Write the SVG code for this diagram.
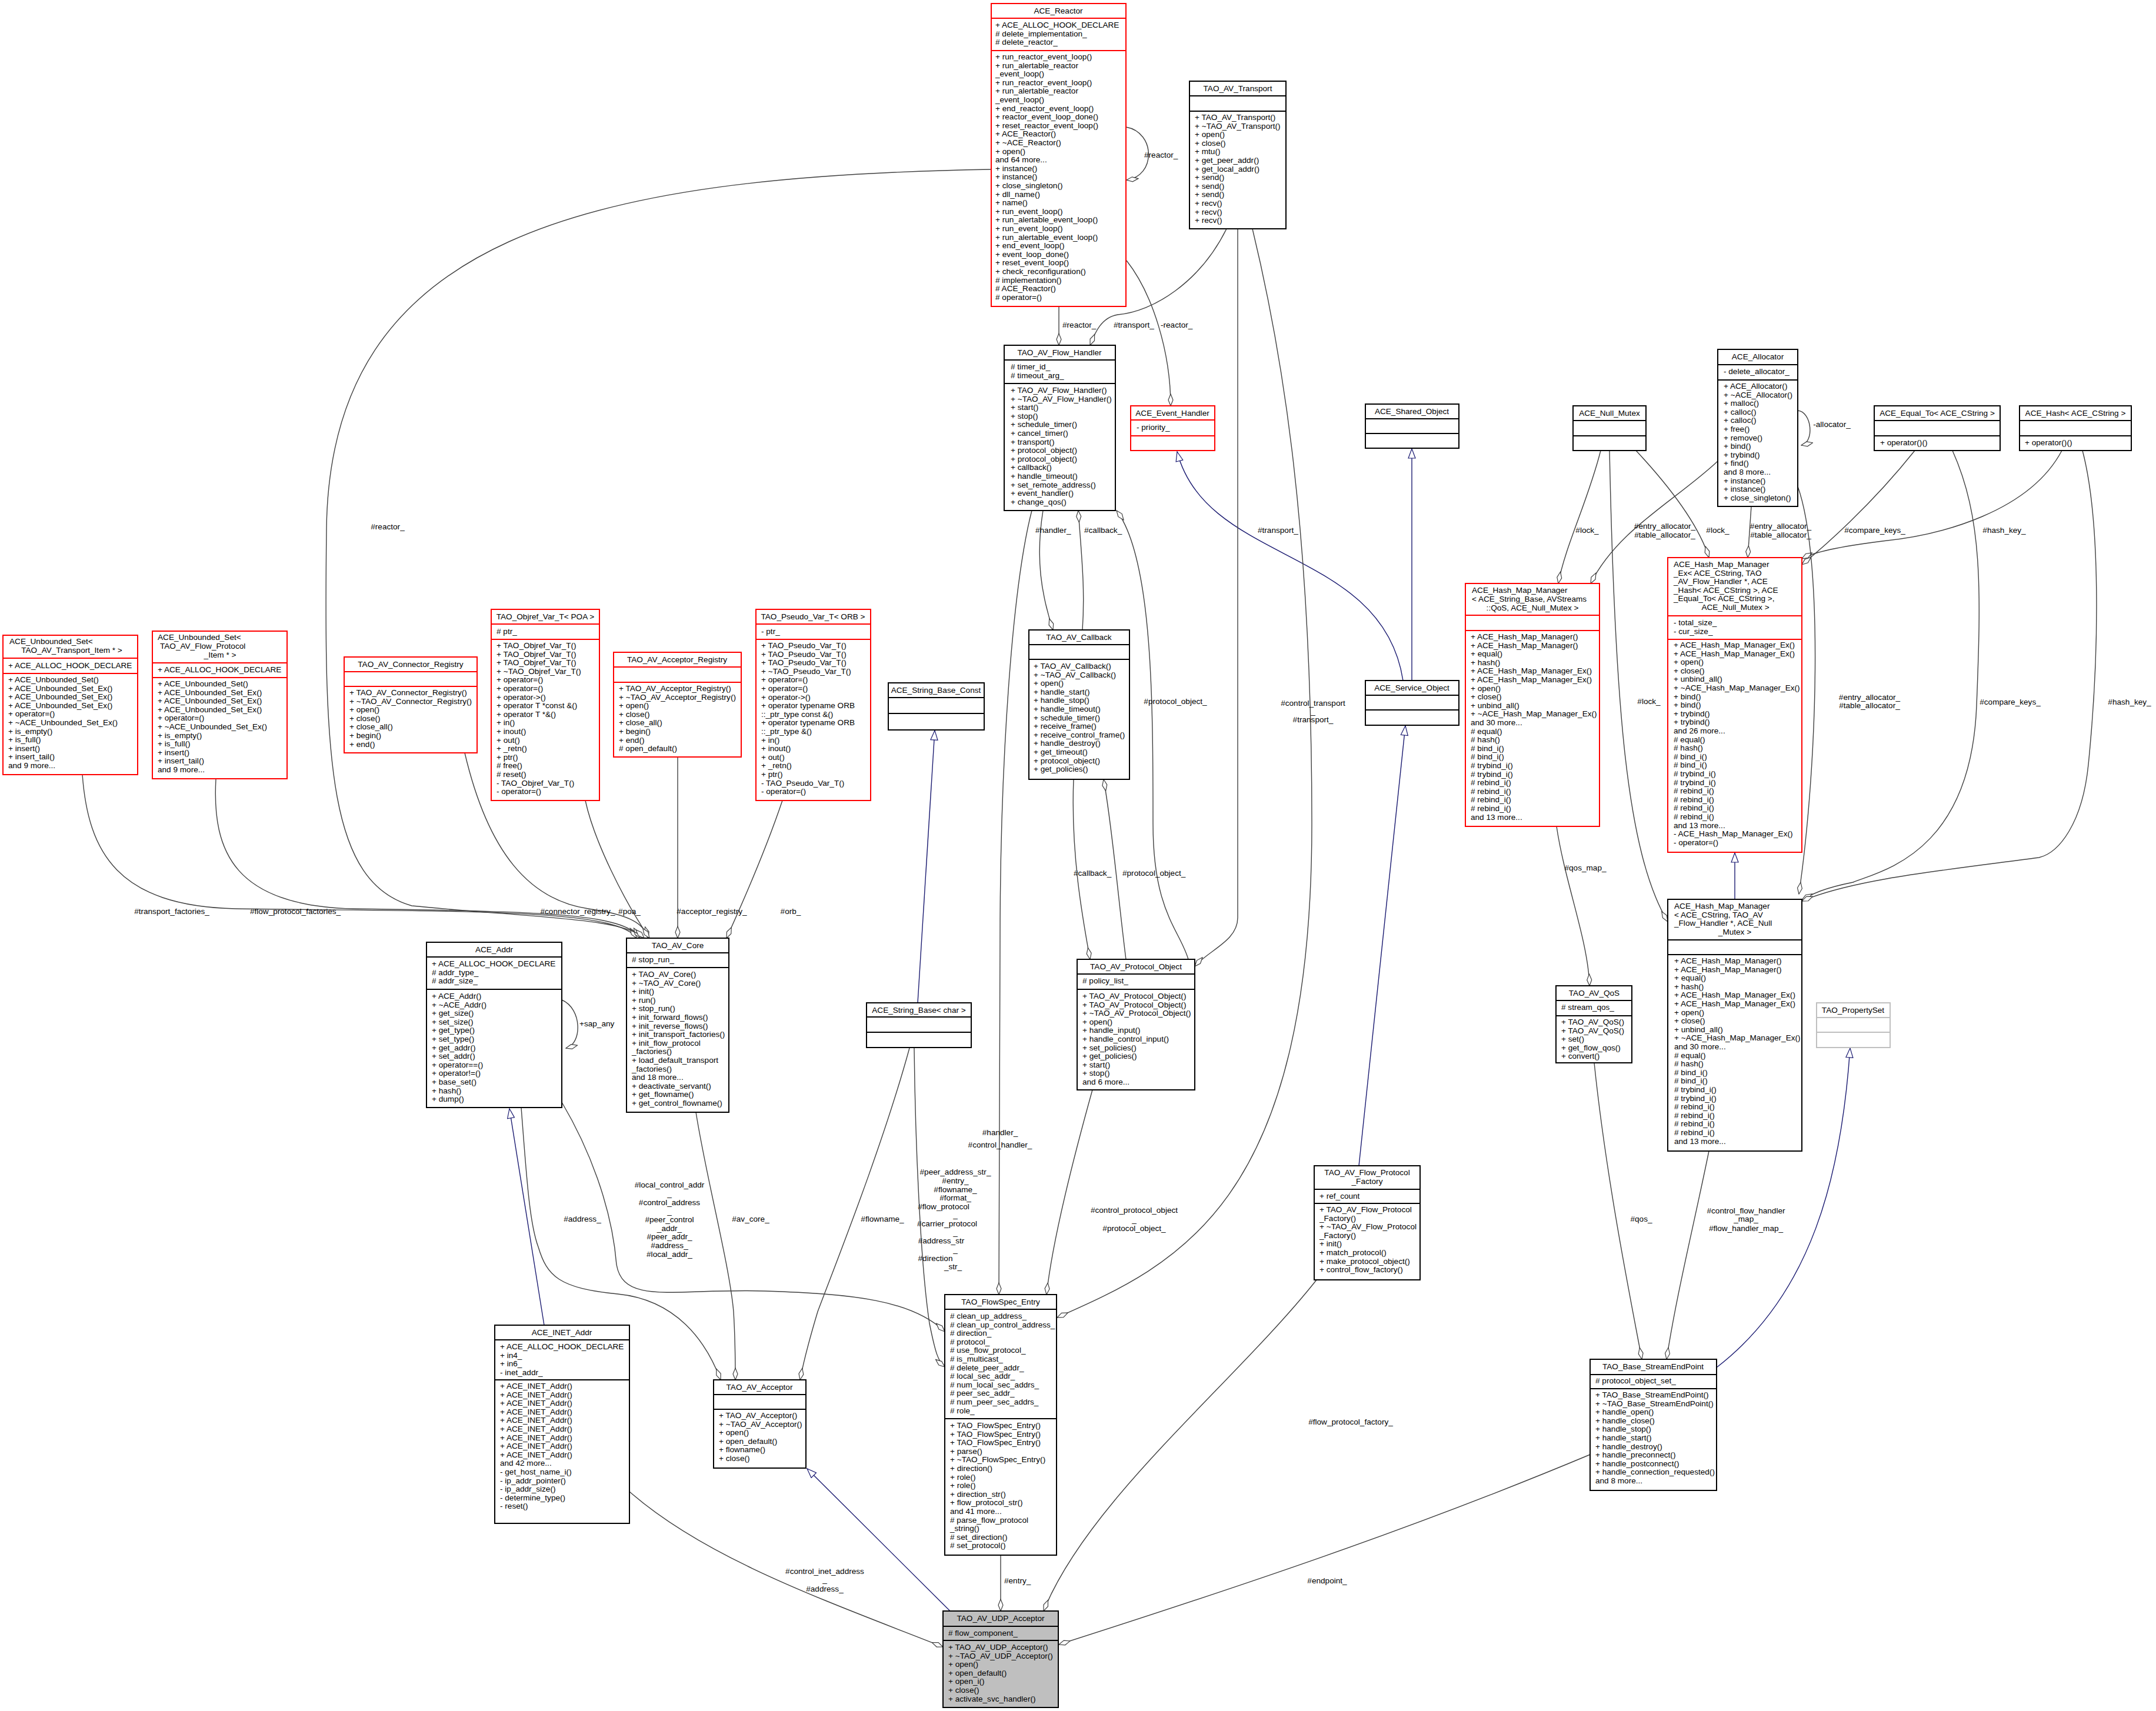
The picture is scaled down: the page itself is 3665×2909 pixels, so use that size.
<svg xmlns="http://www.w3.org/2000/svg" width="3665" height="2909" viewBox="0 0 3665 2909">
<style>
text{font-family:"Liberation Sans",Arial,sans-serif;font-size:13.6px;fill:#000}
.c{text-anchor:middle}
.b{fill:#fff;stroke:#000;stroke-width:2}
.r{fill:#fff;stroke:#ff0000;stroke-width:2}
.g{fill:#fff;stroke:#bfbfbf;stroke-width:2}
.s{stroke:#000;stroke-width:2}
.sr{stroke:#ff0000;stroke-width:2}
.sg{stroke:#bfbfbf;stroke-width:2}
.e{fill:none;stroke:#404040;stroke-width:1.4;marker-end:url(#dia)}
.i{fill:none;stroke:#191970;stroke-width:1.4;marker-end:url(#tri)}
</style>
<defs>
<marker id="dia" viewBox="0 0 22 10" refX="21" refY="5" markerWidth="22" markerHeight="10" markerUnits="userSpaceOnUse" orient="auto"><path d="M1,5 L11,1 L21,5 L11,9 Z" fill="#fff" stroke="#404040" stroke-width="1.2"/></marker>
<marker id="tri" viewBox="0 0 18 14" refX="17" refY="7" markerWidth="18" markerHeight="14" markerUnits="userSpaceOnUse" orient="auto"><path d="M1,1 L17,7 L1,13 Z" fill="#fff" stroke="#191970" stroke-width="1.2"/></marker>
</defs>
<rect width="3665" height="2909" fill="#fff"/>

<g id="connectors">
<path class="e" d="M1914,216 C1965,225 1965,300 1915,306"/>
<text x="1945" y="268">#reactor_</text>
<path class="e" d="M1800,521 L1800,587"/>
<text x="1806" y="557">#reactor_</text>
<path class="e" d="M2085,389 C2040,480 1960,530 1900,535 C1870,540 1860,570 1853,587"/>
<text x="1893" y="557">#transport_</text>
<path class="e" d="M1915,443 C1960,500 1990,600 1990,690"/>
<text x="1973" y="557">-reactor_</text>
<path class="i" d="M2385,1157 C2350,930 2050,960 2001,768"/>
<path class="i" d="M2400,1157 L2400,763"/>
<path class="i" d="M2310,1982 L2389,1234"/>
<path class="e" d="M2104,389 L2104,1560 C2104,1600 2055,1615 2031,1643"/>
<text x="2138" y="906">#transport_</text>
<path class="e" d="M2129,389 C2180,600 2230,900 2230,1400 C2230,2050 2000,2150 1797,2240"/>
<text x="2232" y="1200" class="c">#control_transport</text>
<text x="2232" y="1214" class="c">_</text>
<text x="2232" y="1228" class="c">#transport_</text>
<path class="e" d="M1773,868 C1760,950 1770,1010 1790,1071"/>
<text x="1760" y="906">#handler_</text>
<path class="e" d="M1840,1071 C1845,1000 1838,940 1833,868"/>
<text x="1843" y="906">#callback_</text>
<path class="e" d="M2020,1631 C2005,1580 1960,1550 1960,1400 C1960,1200 1960,950 1898,868"/>
<text x="1998" y="1197" class="c">#protocol_object_</text>
<path class="e" d="M1825,1325 C1820,1450 1840,1560 1853,1631"/>
<text x="1825" y="1489">#callback_</text>
<path class="e" d="M1914,1631 C1900,1520 1890,1400 1876,1325"/>
<text x="1908" y="1489">#protocol_object_</text>
<path class="e" d="M1754,868 C1720,1000 1700,1300 1700,1600 C1700,1900 1698,2100 1698,2201"/>
<text x="1700" y="1930" class="c">#handler_</text>
<text x="1700" y="1951" class="c">#control_handler_</text>
<path class="e" d="M1857,1853 C1830,1950 1790,2100 1779,2201"/>
<text x="1928" y="2062" class="c">#control_protocol_object</text>
<text x="1928" y="2078" class="c">_</text>
<text x="1928" y="2093" class="c">#protocol_object_</text>
<path class="e" d="M955,1874 C1000,1950 1040,2050 1048,2150 C1060,2220 1150,2190 1300,2195 C1450,2200 1550,2210 1606,2264"/>
<text x="1138" y="2019" class="c">#local_control_addr</text>
<text x="1138" y="2034" class="c">_</text>
<text x="1138" y="2049" class="c">#control_address</text>
<text x="1138" y="2064" class="c">_</text>
<text x="1138" y="2078" class="c">#peer_control</text>
<text x="1138" y="2093" class="c">_addr_</text>
<text x="1138" y="2107" class="c">#peer_addr_</text>
<text x="1138" y="2122" class="c">#address_</text>
<text x="1138" y="2137" class="c">#local_addr_</text>
<path class="e" d="M1554,1782 C1556,1950 1565,2150 1580,2250 C1590,2300 1595,2315 1606,2324"/>
<text x="1624" y="1997" class="c">#peer_address_str_</text>
<text x="1624" y="2012" class="c">#entry_</text>
<text x="1624" y="2027" class="c">#flowname_</text>
<text x="1624" y="2041" class="c">#format_</text>
<text x="1604" y="2056" class="c">#flow_protocol</text>
<text x="1624" y="2070" class="c">_</text>
<text x="1610" y="2085" class="c">#carrier_protocol</text>
<text x="1624" y="2100" class="c">_</text>
<text x="1600" y="2114" class="c">#address_str</text>
<text x="1624" y="2129" class="c">_</text>
<text x="1590" y="2144" class="c">#direction</text>
<text x="1620" y="2158" class="c">_str_</text>
<path class="e" d="M1546,1782 C1500,1950 1420,2150 1390,2230 C1375,2280 1365,2320 1360,2346"/>
<text x="1500" y="2077" class="c">#flowname_</text>
<path class="i" d="M1560,1705 L1589,1242"/>
<path class="e" d="M886,1883 C895,2000 900,2080 915,2120 C930,2170 950,2190 1050,2200 C1150,2210 1200,2280 1225,2346"/>
<text x="990" y="2077" class="c">#address_</text>
<path class="i" d="M925,2253 L866,1885"/>
<path class="e" d="M955,1700 C990,1715 990,1775 962,1782"/>
<text x="985" y="1745">+sap_any</text>
<path class="e" d="M1183,1891 C1200,2000 1240,2150 1247,2230 C1250,2280 1250,2320 1250,2346"/>
<text x="1276" y="2077" class="c">#av_core_</text>
<path class="i" d="M1615,2739 L1372,2497"/>
<path class="e" d="M1070,2536 C1200,2650 1400,2720 1603,2800"/>
<text x="1402" y="2676" class="c">#control_inet_address</text>
<text x="1402" y="2690" class="c">_</text>
<text x="1402" y="2706" class="c">#address_</text>
<path class="e" d="M1701,2644 L1701,2739"/>
<text x="1707" y="2692">#entry_</text>
<path class="e" d="M2238,2176 C2100,2350 1850,2550 1774,2739"/>
<text x="2296" y="2422" class="c">#flow_protocol_factory_</text>
<path class="e" d="M2703,2473 C2400,2600 2100,2700 1800,2796"/>
<text x="2256" y="2692" class="c">#endpoint_</text>
<path class="e" d="M140,1317 C150,1450 200,1540 400,1545 C800,1550 1050,1545 1082,1595"/>
<text x="292" y="1554" class="c">#transport_factories_</text>
<path class="e" d="M367,1324 C360,1450 400,1540 600,1545 C900,1550 1060,1550 1088,1595"/>
<text x="502" y="1554" class="c">#flow_protocol_factories_</text>
<path class="e" d="M1685,288 C1000,300 560,400 555,900 C550,1300 560,1500 700,1540 C900,1560 1060,1560 1095,1595"/>
<text x="659" y="900" class="c">#reactor_</text>
<path class="e" d="M790,1280 C830,1450 900,1530 1000,1545 C1070,1555 1095,1570 1102,1595"/>
<text x="982" y="1554" class="c">#connector_registry_</text>
<path class="e" d="M995,1361 C1010,1430 1060,1530 1104,1595"/>
<text x="1070" y="1554" class="c">#poa_</text>
<path class="e" d="M1152,1287 L1152,1595"/>
<text x="1210" y="1554" class="c">#acceptor_registry_</text>
<path class="e" d="M1330,1361 C1300,1450 1260,1540 1235,1595"/>
<text x="1344" y="1554" class="c">#orb_</text>
<path class="e" d="M2721,766 C2700,850 2660,930 2649,992"/>
<text x="2698" y="906" class="c">#lock_</text>
<path class="e" d="M2920,784 C2850,850 2750,900 2704,992"/>
<text x="2830" y="899" class="c">#entry_allocator_</text>
<text x="2830" y="914" class="c">#table_allocator_</text>
<path class="e" d="M2781,766 C2850,840 2890,900 2905,948"/>
<text x="2920" y="906" class="c">#lock_</text>
<path class="e" d="M2977,861 L2971,948"/>
<text x="3027" y="899" class="c">#entry_allocator_</text>
<text x="3027" y="914" class="c">#table_allocator_</text>
<path class="e" d="M3255,766 C3180,860 3100,930 3063,960"/>
<text x="3187" y="906" class="c">#compare_keys_</text>
<path class="e" d="M3505,766 C3450,870 3300,910 3200,920 C3120,930 3080,940 3063,950"/>
<text x="3407" y="906" class="c">#hash_key_</text>
<path class="e" d="M3056,698 C3080,700 3085,752 3062,757"/>
<text x="3114" y="726" class="c">-allocator_</text>
<path class="i" d="M2949,1529 L2949,1450"/>
<path class="e" d="M2736,766 C2745,1200 2765,1450 2835,1567"/>
<text x="2803" y="1197" class="c">#lock_</text>
<path class="e" d="M3056,827 C3100,950 3090,1300 3058,1520"/>
<text x="3178" y="1190" class="c">#entry_allocator_</text>
<text x="3178" y="1204" class="c">#table_allocator_</text>
<path class="e" d="M3319,766 C3370,880 3368,1000 3360,1200 C3350,1450 3200,1480 3150,1500 C3100,1510 3080,1520 3063,1530"/>
<text x="3417" y="1198" class="c">#compare_keys_</text>
<path class="e" d="M3540,766 C3570,880 3570,1100 3550,1300 C3540,1400 3500,1450 3466,1458 C3300,1480 3150,1495 3063,1532"/>
<text x="3620" y="1198" class="c">#hash_key_</text>
<path class="e" d="M2646,1405 C2660,1500 2700,1600 2702,1676"/>
<text x="2695" y="1480" class="c">#qos_map_</text>
<path class="e" d="M2710,1807 C2730,2000 2770,2200 2791,2311"/>
<text x="2790" y="2077" class="c">#qos_</text>
<path class="e" d="M2905,1957 C2880,2080 2850,2200 2833,2311"/>
<text x="2968" y="2063" class="c">#control_flow_handler</text>
<text x="2968" y="2077" class="c">_map_</text>
<text x="2968" y="2093" class="c">#flow_handler_map_</text>
<path class="i" d="M2918,2325 C3080,2200 3130,2000 3145,1782"/>
</g>

<g id="ACE_Reactor">
<rect class="r" x="1685" y="6" width="229" height="515"/>
<line class="sr" x1="1685" y1="31" x2="1914" y2="31"/><line class="sr" x1="1685" y1="86" x2="1914" y2="86"/>
<text class="c" x="1799" y="23">ACE_Reactor</text>
<text x="1692" y="47"><tspan>+ ACE_ALLOC_HOOK_DECLARE</tspan><tspan x="1692" dy="14.6"># delete_implementation_</tspan><tspan x="1692" dy="14.6"># delete_reactor_</tspan></text>
<text x="1692" y="101"><tspan>+ run_reactor_event_loop()</tspan><tspan x="1692" dy="14.6">+ run_alertable_reactor</tspan><tspan x="1692" dy="14.6">_event_loop()</tspan><tspan x="1692" dy="14.6">+ run_reactor_event_loop()</tspan><tspan x="1692" dy="14.6">+ run_alertable_reactor</tspan><tspan x="1692" dy="14.6">_event_loop()</tspan><tspan x="1692" dy="14.6">+ end_reactor_event_loop()</tspan><tspan x="1692" dy="14.6">+ reactor_event_loop_done()</tspan><tspan x="1692" dy="14.6">+ reset_reactor_event_loop()</tspan><tspan x="1692" dy="14.6">+ ACE_Reactor()</tspan><tspan x="1692" dy="14.6">+ ~ACE_Reactor()</tspan><tspan x="1692" dy="14.6">+ open()</tspan><tspan x="1692" dy="14.6">and 64 more...</tspan><tspan x="1692" dy="14.6">+ instance()</tspan><tspan x="1692" dy="14.6">+ instance()</tspan><tspan x="1692" dy="14.6">+ close_singleton()</tspan><tspan x="1692" dy="14.6">+ dll_name()</tspan><tspan x="1692" dy="14.6">+ name()</tspan><tspan x="1692" dy="14.6">+ run_event_loop()</tspan><tspan x="1692" dy="14.6">+ run_alertable_event_loop()</tspan><tspan x="1692" dy="14.6">+ run_event_loop()</tspan><tspan x="1692" dy="14.6">+ run_alertable_event_loop()</tspan><tspan x="1692" dy="14.6">+ end_event_loop()</tspan><tspan x="1692" dy="14.6">+ event_loop_done()</tspan><tspan x="1692" dy="14.6">+ reset_event_loop()</tspan><tspan x="1692" dy="14.6">+ check_reconfiguration()</tspan><tspan x="1692" dy="14.6"># implementation()</tspan><tspan x="1692" dy="14.6"># ACE_Reactor()</tspan><tspan x="1692" dy="14.6"># operator=()</tspan></text>
</g>

<g id="TAO_AV_Transport">
<rect class="b" x="2022" y="138" width="164" height="251"/>
<line class="s" x1="2022" y1="163" x2="2186" y2="163"/><line class="s" x1="2022" y1="189" x2="2186" y2="189"/>
<text class="c" x="2104" y="155">TAO_AV_Transport</text>
<text x="2031" y="204"><tspan>+ TAO_AV_Transport()</tspan><tspan x="2031" dy="14.6">+ ~TAO_AV_Transport()</tspan><tspan x="2031" dy="14.6">+ open()</tspan><tspan x="2031" dy="14.6">+ close()</tspan><tspan x="2031" dy="14.6">+ mtu()</tspan><tspan x="2031" dy="14.6">+ get_peer_addr()</tspan><tspan x="2031" dy="14.6">+ get_local_addr()</tspan><tspan x="2031" dy="14.6">+ send()</tspan><tspan x="2031" dy="14.6">+ send()</tspan><tspan x="2031" dy="14.6">+ send()</tspan><tspan x="2031" dy="14.6">+ recv()</tspan><tspan x="2031" dy="14.6">+ recv()</tspan><tspan x="2031" dy="14.6">+ recv()</tspan></text>
</g>

<g id="TAO_AV_Flow_Handler">
<rect class="b" x="1707" y="587" width="189" height="281"/>
<line class="s" x1="1707" y1="612" x2="1896" y2="612"/><line class="s" x1="1707" y1="652" x2="1896" y2="652"/>
<text class="c" x="1801" y="604">TAO_AV_Flow_Handler</text>
<text x="1718" y="628"><tspan># timer_id_</tspan><tspan x="1718" dy="14.6"># timeout_arg_</tspan></text>
<text x="1718" y="668"><tspan>+ TAO_AV_Flow_Handler()</tspan><tspan x="1718" dy="14.6">+ ~TAO_AV_Flow_Handler()</tspan><tspan x="1718" dy="14.6">+ start()</tspan><tspan x="1718" dy="14.6">+ stop()</tspan><tspan x="1718" dy="14.6">+ schedule_timer()</tspan><tspan x="1718" dy="14.6">+ cancel_timer()</tspan><tspan x="1718" dy="14.6">+ transport()</tspan><tspan x="1718" dy="14.6">+ protocol_object()</tspan><tspan x="1718" dy="14.6">+ protocol_object()</tspan><tspan x="1718" dy="14.6">+ callback()</tspan><tspan x="1718" dy="14.6">+ handle_timeout()</tspan><tspan x="1718" dy="14.6">+ set_remote_address()</tspan><tspan x="1718" dy="14.6">+ event_handler()</tspan><tspan x="1718" dy="14.6">+ change_qos()</tspan></text>
</g>

<g id="ACE_Event_Handler">
<rect class="r" x="1922" y="690" width="143" height="76"/>
<line class="sr" x1="1922" y1="714" x2="2065" y2="714"/><line class="sr" x1="1922" y1="741" x2="2065" y2="741"/>
<text class="c" x="1993" y="707">ACE_Event_Handler</text>
<text x="1932" y="731">- priority_</text>
</g>

<g id="TAO_AV_Callback">
<rect class="b" x="1749" y="1071" width="171" height="254"/>
<line class="s" x1="1749" y1="1096" x2="1920" y2="1096"/><line class="s" x1="1749" y1="1121" x2="1920" y2="1121"/>
<text class="c" x="1834" y="1088">TAO_AV_Callback</text>
<text x="1757" y="1137"><tspan>+ TAO_AV_Callback()</tspan><tspan x="1757" dy="14.6">+ ~TAO_AV_Callback()</tspan><tspan x="1757" dy="14.6">+ open()</tspan><tspan x="1757" dy="14.6">+ handle_start()</tspan><tspan x="1757" dy="14.6">+ handle_stop()</tspan><tspan x="1757" dy="14.6">+ handle_timeout()</tspan><tspan x="1757" dy="14.6">+ schedule_timer()</tspan><tspan x="1757" dy="14.6">+ receive_frame()</tspan><tspan x="1757" dy="14.6">+ receive_control_frame()</tspan><tspan x="1757" dy="14.6">+ handle_destroy()</tspan><tspan x="1757" dy="14.6">+ get_timeout()</tspan><tspan x="1757" dy="14.6">+ protocol_object()</tspan><tspan x="1757" dy="14.6">+ get_policies()</tspan></text>
</g>

<g id="ACE_Shared_Object">
<rect class="b" x="2321" y="687" width="159" height="75"/>
<line class="s" x1="2321" y1="712" x2="2480" y2="712"/><line class="s" x1="2321" y1="737" x2="2480" y2="737"/>
<text class="c" x="2400" y="704">ACE_Shared_Object</text>
</g>

<g id="ACE_Service_Object">
<rect class="b" x="2321" y="1157" width="159" height="76"/>
<line class="s" x1="2321" y1="1182" x2="2480" y2="1182"/><line class="s" x1="2321" y1="1207" x2="2480" y2="1207"/>
<text class="c" x="2400" y="1174">ACE_Service_Object</text>
</g>

<g id="ACE_String_Base_Const">
<rect class="b" x="1510" y="1161" width="163" height="80"/>
<line class="s" x1="1510" y1="1186" x2="1673" y2="1186"/><line class="s" x1="1510" y1="1213" x2="1673" y2="1213"/>
<text class="c" x="1591" y="1178">ACE_String_Base_Const</text>
</g>

<g id="ACE_Unbounded_Set_Transport">
<rect class="r" x="5" y="1080" width="229" height="237"/>
<line class="sr" x1="5" y1="1119" x2="234" y2="1119"/><line class="sr" x1="5" y1="1145" x2="234" y2="1145"/>
<text x="16" y="1095">ACE_Unbounded_Set&lt;</text>
<text class="c" x="122" y="1110">TAO_AV_Transport_Item * &gt;</text>
<text x="14" y="1136">+ ACE_ALLOC_HOOK_DECLARE</text>
<text x="14" y="1160"><tspan>+ ACE_Unbounded_Set()</tspan><tspan x="14" dy="14.6">+ ACE_Unbounded_Set_Ex()</tspan><tspan x="14" dy="14.6">+ ACE_Unbounded_Set_Ex()</tspan><tspan x="14" dy="14.6">+ ACE_Unbounded_Set_Ex()</tspan><tspan x="14" dy="14.6">+ operator=()</tspan><tspan x="14" dy="14.6">+ ~ACE_Unbounded_Set_Ex()</tspan><tspan x="14" dy="14.6">+ is_empty()</tspan><tspan x="14" dy="14.6">+ is_full()</tspan><tspan x="14" dy="14.6">+ insert()</tspan><tspan x="14" dy="14.6">+ insert_tail()</tspan><tspan x="14" dy="14.6">and 9 more...</tspan></text>
</g>

<g id="ACE_Unbounded_Set_Flow_Protocol">
<rect class="r" x="259" y="1073" width="229" height="251"/>
<line class="sr" x1="259" y1="1127" x2="488" y2="1127"/><line class="sr" x1="259" y1="1152" x2="488" y2="1152"/>
<text x="268" y="1088">ACE_Unbounded_Set&lt;</text>
<text x="272" y="1103">TAO_AV_Flow_Protocol</text>
<text class="c" x="374" y="1118">_Item * &gt;</text>
<text x="268" y="1143">+ ACE_ALLOC_HOOK_DECLARE</text>
<text x="268" y="1167"><tspan>+ ACE_Unbounded_Set()</tspan><tspan x="268" dy="14.6">+ ACE_Unbounded_Set_Ex()</tspan><tspan x="268" dy="14.6">+ ACE_Unbounded_Set_Ex()</tspan><tspan x="268" dy="14.6">+ ACE_Unbounded_Set_Ex()</tspan><tspan x="268" dy="14.6">+ operator=()</tspan><tspan x="268" dy="14.6">+ ~ACE_Unbounded_Set_Ex()</tspan><tspan x="268" dy="14.6">+ is_empty()</tspan><tspan x="268" dy="14.6">+ is_full()</tspan><tspan x="268" dy="14.6">+ insert()</tspan><tspan x="268" dy="14.6">+ insert_tail()</tspan><tspan x="268" dy="14.6">and 9 more...</tspan></text>
</g>

<g id="TAO_AV_Connector_Registry">
<rect class="r" x="585" y="1117" width="226" height="163"/>
<line class="sr" x1="585" y1="1142" x2="811" y2="1142"/><line class="sr" x1="585" y1="1167" x2="811" y2="1167"/>
<text class="c" x="698" y="1134">TAO_AV_Connector_Registry</text>
<text x="594" y="1182"><tspan>+ TAO_AV_Connector_Registry()</tspan><tspan x="594" dy="14.6">+ ~TAO_AV_Connector_Registry()</tspan><tspan x="594" dy="14.6">+ open()</tspan><tspan x="594" dy="14.6">+ close()</tspan><tspan x="594" dy="14.6">+ close_all()</tspan><tspan x="594" dy="14.6">+ begin()</tspan><tspan x="594" dy="14.6">+ end()</tspan></text>
</g>

<g id="TAO_Objref_Var_T">
<rect class="r" x="835" y="1036" width="184" height="325"/>
<line class="sr" x1="835" y1="1061" x2="1019" y2="1061"/><line class="sr" x1="835" y1="1087" x2="1019" y2="1087"/>
<text class="c" x="927" y="1053">TAO_Objref_Var_T&lt; POA &gt;</text>
<text x="844" y="1078"># ptr_</text>
<text x="844" y="1102"><tspan>+ TAO_Objref_Var_T()</tspan><tspan x="844" dy="14.6">+ TAO_Objref_Var_T()</tspan><tspan x="844" dy="14.6">+ TAO_Objref_Var_T()</tspan><tspan x="844" dy="14.6">+ ~TAO_Objref_Var_T()</tspan><tspan x="844" dy="14.6">+ operator=()</tspan><tspan x="844" dy="14.6">+ operator=()</tspan><tspan x="844" dy="14.6">+ operator-&gt;()</tspan><tspan x="844" dy="14.6">+ operator T *const &amp;()</tspan><tspan x="844" dy="14.6">+ operator T *&amp;()</tspan><tspan x="844" dy="14.6">+ in()</tspan><tspan x="844" dy="14.6">+ inout()</tspan><tspan x="844" dy="14.6">+ out()</tspan><tspan x="844" dy="14.6">+ _retn()</tspan><tspan x="844" dy="14.6">+ ptr()</tspan><tspan x="844" dy="14.6"># free()</tspan><tspan x="844" dy="14.6"># reset()</tspan><tspan x="844" dy="14.6">- TAO_Objref_Var_T()</tspan><tspan x="844" dy="14.6">- operator=()</tspan></text>
</g>

<g id="TAO_AV_Acceptor_Registry">
<rect class="r" x="1043" y="1109" width="217" height="178"/>
<line class="sr" x1="1043" y1="1134" x2="1260" y2="1134"/><line class="sr" x1="1043" y1="1160" x2="1260" y2="1160"/>
<text class="c" x="1151" y="1126">TAO_AV_Acceptor_Registry</text>
<text x="1052" y="1175"><tspan>+ TAO_AV_Acceptor_Registry()</tspan><tspan x="1052" dy="14.6">+ ~TAO_AV_Acceptor_Registry()</tspan><tspan x="1052" dy="14.6">+ open()</tspan><tspan x="1052" dy="14.6">+ close()</tspan><tspan x="1052" dy="14.6">+ close_all()</tspan><tspan x="1052" dy="14.6">+ begin()</tspan><tspan x="1052" dy="14.6">+ end()</tspan><tspan x="1052" dy="14.6"># open_default()</tspan></text>
</g>

<g id="TAO_Pseudo_Var_T">
<rect class="r" x="1285" y="1036" width="195" height="325"/>
<line class="sr" x1="1285" y1="1061" x2="1480" y2="1061"/><line class="sr" x1="1285" y1="1087" x2="1480" y2="1087"/>
<text class="c" x="1382" y="1053">TAO_Pseudo_Var_T&lt; ORB &gt;</text>
<text x="1294" y="1078">- ptr_</text>
<text x="1294" y="1102"><tspan>+ TAO_Pseudo_Var_T()</tspan><tspan x="1294" dy="14.6">+ TAO_Pseudo_Var_T()</tspan><tspan x="1294" dy="14.6">+ TAO_Pseudo_Var_T()</tspan><tspan x="1294" dy="14.6">+ ~TAO_Pseudo_Var_T()</tspan><tspan x="1294" dy="14.6">+ operator=()</tspan><tspan x="1294" dy="14.6">+ operator=()</tspan><tspan x="1294" dy="14.6">+ operator-&gt;()</tspan><tspan x="1294" dy="14.6">+ operator typename ORB</tspan><tspan x="1294" dy="14.6">::_ptr_type const &amp;()</tspan><tspan x="1294" dy="14.6">+ operator typename ORB</tspan><tspan x="1294" dy="14.6">::_ptr_type &amp;()</tspan><tspan x="1294" dy="14.6">+ in()</tspan><tspan x="1294" dy="14.6">+ inout()</tspan><tspan x="1294" dy="14.6">+ out()</tspan><tspan x="1294" dy="14.6">+ _retn()</tspan><tspan x="1294" dy="14.6">+ ptr()</tspan><tspan x="1294" dy="14.6">- TAO_Pseudo_Var_T()</tspan><tspan x="1294" dy="14.6">- operator=()</tspan></text>
</g>

<g id="ACE_Addr">
<rect class="b" x="725" y="1602" width="230" height="281"/>
<line class="s" x1="725" y1="1627" x2="955" y2="1627"/><line class="s" x1="725" y1="1682" x2="955" y2="1682"/>
<text class="c" x="840" y="1619">ACE_Addr</text>
<text x="734" y="1643"><tspan>+ ACE_ALLOC_HOOK_DECLARE</tspan><tspan x="734" dy="14.6"># addr_type_</tspan><tspan x="734" dy="14.6"># addr_size_</tspan></text>
<text x="734" y="1698"><tspan>+ ACE_Addr()</tspan><tspan x="734" dy="14.6">+ ~ACE_Addr()</tspan><tspan x="734" dy="14.6">+ get_size()</tspan><tspan x="734" dy="14.6">+ set_size()</tspan><tspan x="734" dy="14.6">+ get_type()</tspan><tspan x="734" dy="14.6">+ set_type()</tspan><tspan x="734" dy="14.6">+ get_addr()</tspan><tspan x="734" dy="14.6">+ set_addr()</tspan><tspan x="734" dy="14.6">+ operator==()</tspan><tspan x="734" dy="14.6">+ operator!=()</tspan><tspan x="734" dy="14.6">+ base_set()</tspan><tspan x="734" dy="14.6">+ hash()</tspan><tspan x="734" dy="14.6">+ dump()</tspan></text>
</g>

<g id="TAO_AV_Core">
<rect class="b" x="1065" y="1595" width="174" height="296"/>
<line class="s" x1="1065" y1="1620" x2="1239" y2="1620"/><line class="s" x1="1065" y1="1645" x2="1239" y2="1645"/>
<text class="c" x="1152" y="1612">TAO_AV_Core</text>
<text x="1074" y="1636"># stop_run_</text>
<text x="1074" y="1661"><tspan>+ TAO_AV_Core()</tspan><tspan x="1074" dy="14.6">+ ~TAO_AV_Core()</tspan><tspan x="1074" dy="14.6">+ init()</tspan><tspan x="1074" dy="14.6">+ run()</tspan><tspan x="1074" dy="14.6">+ stop_run()</tspan><tspan x="1074" dy="14.6">+ init_forward_flows()</tspan><tspan x="1074" dy="14.6">+ init_reverse_flows()</tspan><tspan x="1074" dy="14.6">+ init_transport_factories()</tspan><tspan x="1074" dy="14.6">+ init_flow_protocol</tspan><tspan x="1074" dy="14.6">_factories()</tspan><tspan x="1074" dy="14.6">+ load_default_transport</tspan><tspan x="1074" dy="14.6">_factories()</tspan><tspan x="1074" dy="14.6">and 18 more...</tspan><tspan x="1074" dy="14.6">+ deactivate_servant()</tspan><tspan x="1074" dy="14.6">+ get_flowname()</tspan><tspan x="1074" dy="14.6">+ get_control_flowname()</tspan></text>
</g>

<g id="ACE_String_Base_char">
<rect class="b" x="1473" y="1705" width="178" height="76"/>
<line class="s" x1="1473" y1="1729" x2="1651" y2="1729"/><line class="s" x1="1473" y1="1755" x2="1651" y2="1755"/>
<text class="c" x="1562" y="1722">ACE_String_Base&lt; char &gt;</text>
</g>

<g id="TAO_AV_Protocol_Object">
<rect class="b" x="1831" y="1631" width="200" height="222"/>
<line class="s" x1="1831" y1="1656" x2="2031" y2="1656"/><line class="s" x1="1831" y1="1682" x2="2031" y2="1682"/>
<text class="c" x="1931" y="1648">TAO_AV_Protocol_Object</text>
<text x="1840" y="1672"># policy_list_</text>
<text x="1840" y="1698"><tspan>+ TAO_AV_Protocol_Object()</tspan><tspan x="1840" dy="14.6">+ TAO_AV_Protocol_Object()</tspan><tspan x="1840" dy="14.6">+ ~TAO_AV_Protocol_Object()</tspan><tspan x="1840" dy="14.6">+ open()</tspan><tspan x="1840" dy="14.6">+ handle_input()</tspan><tspan x="1840" dy="14.6">+ handle_control_input()</tspan><tspan x="1840" dy="14.6">+ set_policies()</tspan><tspan x="1840" dy="14.6">+ get_policies()</tspan><tspan x="1840" dy="14.6">+ start()</tspan><tspan x="1840" dy="14.6">+ stop()</tspan><tspan x="1840" dy="14.6">and 6 more...</tspan></text>
</g>

<g id="TAO_AV_QoS">
<rect class="b" x="2645" y="1676" width="129" height="131"/>
<line class="s" x1="2645" y1="1701" x2="2774" y2="1701"/><line class="s" x1="2645" y1="1727" x2="2774" y2="1727"/>
<text class="c" x="2710" y="1693">TAO_AV_QoS</text>
<text x="2654" y="1717"># stream_qos_</text>
<text x="2654" y="1742"><tspan>+ TAO_AV_QoS()</tspan><tspan x="2654" dy="14.6">+ TAO_AV_QoS()</tspan><tspan x="2654" dy="14.6">+ set()</tspan><tspan x="2654" dy="14.6">+ get_flow_qos()</tspan><tspan x="2654" dy="14.6">+ convert()</tspan></text>
</g>

<g id="ACE_Hash_Map_Manager_QoS">
<rect class="r" x="2491" y="992" width="228" height="413"/>
<line class="sr" x1="2491" y1="1046" x2="2719" y2="1046"/><line class="sr" x1="2491" y1="1072" x2="2719" y2="1072"/>
<text x="2502" y="1008">ACE_Hash_Map_Manager</text>
<text x="2502" y="1023">&lt; ACE_String_Base, AVStreams</text>
<text class="c" x="2605" y="1038">::QoS, ACE_Null_Mutex &gt;</text>
<text x="2500" y="1087"><tspan>+ ACE_Hash_Map_Manager()</tspan><tspan x="2500" dy="14.6">+ ACE_Hash_Map_Manager()</tspan><tspan x="2500" dy="14.6">+ equal()</tspan><tspan x="2500" dy="14.6">+ hash()</tspan><tspan x="2500" dy="14.6">+ ACE_Hash_Map_Manager_Ex()</tspan><tspan x="2500" dy="14.6">+ ACE_Hash_Map_Manager_Ex()</tspan><tspan x="2500" dy="14.6">+ open()</tspan><tspan x="2500" dy="14.6">+ close()</tspan><tspan x="2500" dy="14.6">+ unbind_all()</tspan><tspan x="2500" dy="14.6">+ ~ACE_Hash_Map_Manager_Ex()</tspan><tspan x="2500" dy="14.6">and 30 more...</tspan><tspan x="2500" dy="14.6"># equal()</tspan><tspan x="2500" dy="14.6"># hash()</tspan><tspan x="2500" dy="14.6"># bind_i()</tspan><tspan x="2500" dy="14.6"># bind_i()</tspan><tspan x="2500" dy="14.6"># trybind_i()</tspan><tspan x="2500" dy="14.6"># trybind_i()</tspan><tspan x="2500" dy="14.6"># rebind_i()</tspan><tspan x="2500" dy="14.6"># rebind_i()</tspan><tspan x="2500" dy="14.6"># rebind_i()</tspan><tspan x="2500" dy="14.6"># rebind_i()</tspan><tspan x="2500" dy="14.6">and 13 more...</tspan></text>
</g>

<g id="ACE_Hash_Map_Manager_Ex">
<rect class="r" x="2835" y="948" width="228" height="501"/>
<line class="sr" x1="2835" y1="1047" x2="3063" y2="1047"/><line class="sr" x1="2835" y1="1087" x2="3063" y2="1087"/>
<text x="2845" y="964"><tspan>ACE_Hash_Map_Manager</tspan><tspan x="2845" dy="14.6">_Ex&lt; ACE_CString, TAO</tspan><tspan x="2845" dy="14.6">_AV_Flow_Handler *, ACE</tspan><tspan x="2845" dy="14.6">_Hash&lt; ACE_CString &gt;, ACE</tspan><tspan x="2845" dy="14.6">_Equal_To&lt; ACE_CString &gt;,</tspan></text>
<text class="c" x="2950" y="1037">ACE_Null_Mutex &gt;</text>
<text x="2845" y="1063"><tspan>- total_size_</tspan><tspan x="2845" dy="14.6">- cur_size_</tspan></text>
<text x="2845" y="1101"><tspan>+ ACE_Hash_Map_Manager_Ex()</tspan><tspan x="2845" dy="14.6">+ ACE_Hash_Map_Manager_Ex()</tspan><tspan x="2845" dy="14.6">+ open()</tspan><tspan x="2845" dy="14.6">+ close()</tspan><tspan x="2845" dy="14.6">+ unbind_all()</tspan><tspan x="2845" dy="14.6">+ ~ACE_Hash_Map_Manager_Ex()</tspan><tspan x="2845" dy="14.6">+ bind()</tspan><tspan x="2845" dy="14.6">+ bind()</tspan><tspan x="2845" dy="14.6">+ trybind()</tspan><tspan x="2845" dy="14.6">+ trybind()</tspan><tspan x="2845" dy="14.6">and 26 more...</tspan><tspan x="2845" dy="14.6"># equal()</tspan><tspan x="2845" dy="14.6"># hash()</tspan><tspan x="2845" dy="14.6"># bind_i()</tspan><tspan x="2845" dy="14.6"># bind_i()</tspan><tspan x="2845" dy="14.6"># trybind_i()</tspan><tspan x="2845" dy="14.6"># trybind_i()</tspan><tspan x="2845" dy="14.6"># rebind_i()</tspan><tspan x="2845" dy="14.6"># rebind_i()</tspan><tspan x="2845" dy="14.6"># rebind_i()</tspan><tspan x="2845" dy="14.6"># rebind_i()</tspan><tspan x="2845" dy="14.6">and 13 more...</tspan><tspan x="2845" dy="14.6">- ACE_Hash_Map_Manager_Ex()</tspan><tspan x="2845" dy="14.6">- operator=()</tspan></text>
</g>

<g id="ACE_Hash_Map_Manager_Flow">
<rect class="b" x="2835" y="1529" width="228" height="428"/>
<line class="s" x1="2835" y1="1598" x2="3063" y2="1598"/><line class="s" x1="2835" y1="1623" x2="3063" y2="1623"/>
<text x="2846" y="1545"><tspan>ACE_Hash_Map_Manager</tspan><tspan x="2846" dy="14.6">&lt; ACE_CString, TAO_AV</tspan><tspan x="2846" dy="14.6">_Flow_Handler *, ACE_Null</tspan></text>
<text class="c" x="2949" y="1589">_Mutex &gt;</text>
<text x="2846" y="1638"><tspan>+ ACE_Hash_Map_Manager()</tspan><tspan x="2846" dy="14.6">+ ACE_Hash_Map_Manager()</tspan><tspan x="2846" dy="14.6">+ equal()</tspan><tspan x="2846" dy="14.6">+ hash()</tspan><tspan x="2846" dy="14.6">+ ACE_Hash_Map_Manager_Ex()</tspan><tspan x="2846" dy="14.6">+ ACE_Hash_Map_Manager_Ex()</tspan><tspan x="2846" dy="14.6">+ open()</tspan><tspan x="2846" dy="14.6">+ close()</tspan><tspan x="2846" dy="14.6">+ unbind_all()</tspan><tspan x="2846" dy="14.6">+ ~ACE_Hash_Map_Manager_Ex()</tspan><tspan x="2846" dy="14.6">and 30 more...</tspan><tspan x="2846" dy="14.6"># equal()</tspan><tspan x="2846" dy="14.6"># hash()</tspan><tspan x="2846" dy="14.6"># bind_i()</tspan><tspan x="2846" dy="14.6"># bind_i()</tspan><tspan x="2846" dy="14.6"># trybind_i()</tspan><tspan x="2846" dy="14.6"># trybind_i()</tspan><tspan x="2846" dy="14.6"># rebind_i()</tspan><tspan x="2846" dy="14.6"># rebind_i()</tspan><tspan x="2846" dy="14.6"># rebind_i()</tspan><tspan x="2846" dy="14.6"># rebind_i()</tspan><tspan x="2846" dy="14.6">and 13 more...</tspan></text>
</g>

<g id="ACE_Allocator">
<rect class="b" x="2920" y="594" width="136" height="267"/>
<line class="s" x1="2920" y1="620" x2="3056" y2="620"/><line class="s" x1="2920" y1="646" x2="3056" y2="646"/>
<text class="c" x="2988" y="611">ACE_Allocator</text>
<text x="2930" y="636">- delete_allocator_</text>
<text x="2930" y="661"><tspan>+ ACE_Allocator()</tspan><tspan x="2930" dy="14.6">+ ~ACE_Allocator()</tspan><tspan x="2930" dy="14.6">+ malloc()</tspan><tspan x="2930" dy="14.6">+ calloc()</tspan><tspan x="2930" dy="14.6">+ calloc()</tspan><tspan x="2930" dy="14.6">+ free()</tspan><tspan x="2930" dy="14.6">+ remove()</tspan><tspan x="2930" dy="14.6">+ bind()</tspan><tspan x="2930" dy="14.6">+ trybind()</tspan><tspan x="2930" dy="14.6">+ find()</tspan><tspan x="2930" dy="14.6">and 8 more...</tspan><tspan x="2930" dy="14.6">+ instance()</tspan><tspan x="2930" dy="14.6">+ instance()</tspan><tspan x="2930" dy="14.6">+ close_singleton()</tspan></text>
</g>

<g id="ACE_Null_Mutex">
<rect class="b" x="2674" y="690" width="124" height="76"/>
<line class="s" x1="2674" y1="715" x2="2798" y2="715"/><line class="s" x1="2674" y1="741" x2="2798" y2="741"/>
<text class="c" x="2736" y="707">ACE_Null_Mutex</text>
</g>

<g id="ACE_Equal_To">
<rect class="b" x="3186" y="690" width="214" height="76"/>
<line class="s" x1="3186" y1="715" x2="3400" y2="715"/><line class="s" x1="3186" y1="741" x2="3400" y2="741"/>
<text class="c" x="3293" y="707">ACE_Equal_To&lt; ACE_CString &gt;</text>
<text x="3196" y="757">+ operator()()</text>
</g>

<g id="ACE_Hash">
<rect class="b" x="3433" y="690" width="190" height="76"/>
<line class="s" x1="3433" y1="715" x2="3623" y2="715"/><line class="s" x1="3433" y1="741" x2="3623" y2="741"/>
<text class="c" x="3528" y="707">ACE_Hash&lt; ACE_CString &gt;</text>
<text x="3442" y="757">+ operator()()</text>
</g>

<g id="TAO_PropertySet">
<rect class="g" x="3088" y="1705" width="125" height="76"/>
<line class="sg" x1="3088" y1="1730" x2="3213" y2="1730"/><line class="sg" x1="3088" y1="1755" x2="3213" y2="1755"/>
<text class="c" x="3150" y="1722">TAO_PropertySet</text>
</g>

<g id="TAO_Base_StreamEndPoint">
<rect class="b" x="2703" y="2311" width="215" height="223"/>
<line class="s" x1="2703" y1="2337" x2="2918" y2="2337"/><line class="s" x1="2703" y1="2361" x2="2918" y2="2361"/>
<text class="c" x="2810" y="2328">TAO_Base_StreamEndPoint</text>
<text x="2712" y="2352"># protocol_object_set_</text>
<text x="2712" y="2376"><tspan>+ TAO_Base_StreamEndPoint()</tspan><tspan x="2712" dy="14.6">+ ~TAO_Base_StreamEndPoint()</tspan><tspan x="2712" dy="14.6">+ handle_open()</tspan><tspan x="2712" dy="14.6">+ handle_close()</tspan><tspan x="2712" dy="14.6">+ handle_stop()</tspan><tspan x="2712" dy="14.6">+ handle_start()</tspan><tspan x="2712" dy="14.6">+ handle_destroy()</tspan><tspan x="2712" dy="14.6">+ handle_preconnect()</tspan><tspan x="2712" dy="14.6">+ handle_postconnect()</tspan><tspan x="2712" dy="14.6">+ handle_connection_requested()</tspan><tspan x="2712" dy="14.6">and 8 more...</tspan></text>
</g>

<g id="TAO_AV_Flow_Protocol_Factory">
<rect class="b" x="2234" y="1982" width="180" height="194"/>
<line class="s" x1="2234" y1="2022" x2="2414" y2="2022"/><line class="s" x1="2234" y1="2046" x2="2414" y2="2046"/>
<text class="c" x="2324" y="1998">TAO_AV_Flow_Protocol</text>
<text class="c" x="2324" y="2013">_Factory</text>
<text x="2243" y="2038">+ ref_count</text>
<text x="2243" y="2061"><tspan>+ TAO_AV_Flow_Protocol</tspan><tspan x="2243" dy="14.6">_Factory()</tspan><tspan x="2243" dy="14.6">+ ~TAO_AV_Flow_Protocol</tspan><tspan x="2243" dy="14.6">_Factory()</tspan><tspan x="2243" dy="14.6">+ init()</tspan><tspan x="2243" dy="14.6">+ match_protocol()</tspan><tspan x="2243" dy="14.6">+ make_protocol_object()</tspan><tspan x="2243" dy="14.6">+ control_flow_factory()</tspan></text>
</g>

<g id="ACE_INET_Addr">
<rect class="b" x="841" y="2253" width="229" height="337"/>
<line class="s" x1="841" y1="2278" x2="1070" y2="2278"/><line class="s" x1="841" y1="2346" x2="1070" y2="2346"/>
<text class="c" x="955" y="2270">ACE_INET_Addr</text>
<text x="850" y="2294"><tspan>+ ACE_ALLOC_HOOK_DECLARE</tspan><tspan x="850" dy="14.6">+ in4_</tspan><tspan x="850" dy="14.6">+ in6_</tspan><tspan x="850" dy="14.6">- inet_addr_</tspan></text>
<text x="850" y="2361"><tspan>+ ACE_INET_Addr()</tspan><tspan x="850" dy="14.6">+ ACE_INET_Addr()</tspan><tspan x="850" dy="14.6">+ ACE_INET_Addr()</tspan><tspan x="850" dy="14.6">+ ACE_INET_Addr()</tspan><tspan x="850" dy="14.6">+ ACE_INET_Addr()</tspan><tspan x="850" dy="14.6">+ ACE_INET_Addr()</tspan><tspan x="850" dy="14.6">+ ACE_INET_Addr()</tspan><tspan x="850" dy="14.6">+ ACE_INET_Addr()</tspan><tspan x="850" dy="14.6">+ ACE_INET_Addr()</tspan><tspan x="850" dy="14.6">and 42 more...</tspan><tspan x="850" dy="14.6">- get_host_name_i()</tspan><tspan x="850" dy="14.6">- ip_addr_pointer()</tspan><tspan x="850" dy="14.6">- ip_addr_size()</tspan><tspan x="850" dy="14.6">- determine_type()</tspan><tspan x="850" dy="14.6">- reset()</tspan></text>
</g>

<g id="TAO_AV_Acceptor">
<rect class="b" x="1213" y="2346" width="157" height="150"/>
<line class="s" x1="1213" y1="2371" x2="1370" y2="2371"/><line class="s" x1="1213" y1="2396" x2="1370" y2="2396"/>
<text class="c" x="1291" y="2363">TAO_AV_Acceptor</text>
<text x="1222" y="2411"><tspan>+ TAO_AV_Acceptor()</tspan><tspan x="1222" dy="14.6">+ ~TAO_AV_Acceptor()</tspan><tspan x="1222" dy="14.6">+ open()</tspan><tspan x="1222" dy="14.6">+ open_default()</tspan><tspan x="1222" dy="14.6">+ flowname()</tspan><tspan x="1222" dy="14.6">+ close()</tspan></text>
</g>

<g id="TAO_FlowSpec_Entry">
<rect class="b" x="1606" y="2201" width="190" height="443"/>
<line class="s" x1="1606" y1="2226" x2="1796" y2="2226"/><line class="s" x1="1606" y1="2412" x2="1796" y2="2412"/>
<text class="c" x="1701" y="2218">TAO_FlowSpec_Entry</text>
<text x="1615" y="2242"><tspan># clean_up_address_</tspan><tspan x="1615" dy="14.6"># clean_up_control_address_</tspan><tspan x="1615" dy="14.6"># direction_</tspan><tspan x="1615" dy="14.6"># protocol_</tspan><tspan x="1615" dy="14.6"># use_flow_protocol_</tspan><tspan x="1615" dy="14.6"># is_multicast_</tspan><tspan x="1615" dy="14.6"># delete_peer_addr_</tspan><tspan x="1615" dy="14.6"># local_sec_addr_</tspan><tspan x="1615" dy="14.6"># num_local_sec_addrs_</tspan><tspan x="1615" dy="14.6"># peer_sec_addr_</tspan><tspan x="1615" dy="14.6"># num_peer_sec_addrs_</tspan><tspan x="1615" dy="14.6"># role_</tspan></text>
<text x="1615" y="2428"><tspan>+ TAO_FlowSpec_Entry()</tspan><tspan x="1615" dy="14.6">+ TAO_FlowSpec_Entry()</tspan><tspan x="1615" dy="14.6">+ TAO_FlowSpec_Entry()</tspan><tspan x="1615" dy="14.6">+ parse()</tspan><tspan x="1615" dy="14.6">+ ~TAO_FlowSpec_Entry()</tspan><tspan x="1615" dy="14.6">+ direction()</tspan><tspan x="1615" dy="14.6">+ role()</tspan><tspan x="1615" dy="14.6">+ role()</tspan><tspan x="1615" dy="14.6">+ direction_str()</tspan><tspan x="1615" dy="14.6">+ flow_protocol_str()</tspan><tspan x="1615" dy="14.6">and 41 more...</tspan><tspan x="1615" dy="14.6"># parse_flow_protocol</tspan><tspan x="1615" dy="14.6">_string()</tspan><tspan x="1615" dy="14.6"># set_direction()</tspan><tspan x="1615" dy="14.6"># set_protocol()</tspan></text>
</g>

<g id="TAO_AV_UDP_Acceptor">
<rect x="1603" y="2739" width="196" height="164" fill="#bfbfbf" stroke="#000" stroke-width="2"/>
<line class="s" x1="1603" y1="2765" x2="1799" y2="2765"/><line class="s" x1="1603" y1="2789" x2="1799" y2="2789"/>
<text class="c" x="1701" y="2756">TAO_AV_UDP_Acceptor</text>
<text x="1612" y="2781"># flow_component_</text>
<text x="1612" y="2805"><tspan>+ TAO_AV_UDP_Acceptor()</tspan><tspan x="1612" dy="14.6">+ ~TAO_AV_UDP_Acceptor()</tspan><tspan x="1612" dy="14.6">+ open()</tspan><tspan x="1612" dy="14.6">+ open_default()</tspan><tspan x="1612" dy="14.6">+ open_i()</tspan><tspan x="1612" dy="14.6">+ close()</tspan><tspan x="1612" dy="14.6">+ activate_svc_handler()</tspan></text>
</g>
</svg>
